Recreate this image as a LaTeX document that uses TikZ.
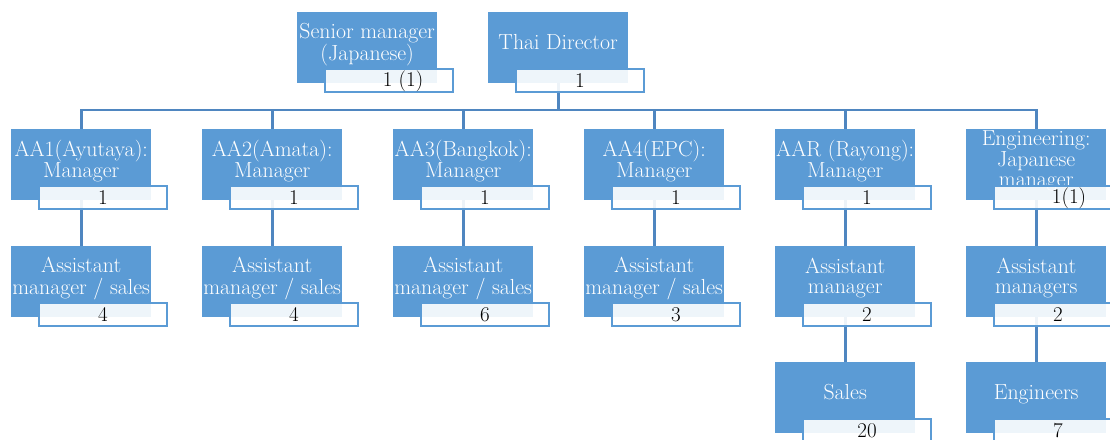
\documentclass[tikz,border=0pt]{standalone}
\usepackage{fontspec}
\setmainfont{Latin Modern Roman}
\definecolor{boxblue}{HTML}{5B9BD5}
\definecolor{linkblue}{HTML}{4F86C0}
\definecolor{countedge}{HTML}{5B9BD5}
\newcommand\boxtext[1]{\raisebox{3pt}[\height][\depth]{\begin{tabular}{@{}c@{}}#1\end{tabular}}}
\begin{document}
\begin{tikzpicture}[x=1pt,y=-1pt,
  role/.style={fill=boxblue,draw=none,minimum width=140pt,minimum height=71pt,
    inner sep=0pt,anchor=north west,text=white,font=\fontsize{21.8}{20.5}\selectfont},
  count/.style={draw=countedge,line width=2pt,fill=white,fill opacity=0.9,text opacity=1,
    minimum width=128pt,minimum height=23pt,inner sep=0pt,anchor=south west,
    font=\fontsize{21}{20}\selectfont},
  link/.style={draw=linkblue,line width=2.6pt}]
\path[use as bounding box] (0,0) rectangle (1110,439);
\clip (0,0) rectangle (1110,439);

% top level
\node[role] (senior) at (297,12) {\boxtext{Senior manager\\(Japanese)}};
\node[role] (thai) at (488,12) {\boxtext{Thai Director}};

% branch managers
\node[role] (a1) at (11,129)  {\boxtext{AA1(Ayutaya):\\Manager}};
\node[role] (a2) at (202,129) {\boxtext{AA2(Amata):\\Manager}};
\node[role] (a3) at (393,129) {\boxtext{AA3(Bangkok):\\Manager}};
\node[role] (a4) at (584,129) {\boxtext{AA4(EPC):\\Manager}};
\node[role] (a5) at (775,129) {\boxtext{AAR (Rayong):\\Manager}};
\node[role] (a6) at (966,129) {\boxtext{Engineering:\\Japanese\\manager}};

% assistants
\node[role] (b1) at (11,246)  {\boxtext{Assistant\\manager / sales}};
\node[role] (b2) at (202,246) {\boxtext{Assistant\\manager / sales}};
\node[role] (b3) at (393,246) {\boxtext{Assistant\\manager / sales}};
\node[role] (b4) at (584,246) {\boxtext{Assistant\\manager / sales}};
\node[role] (b5) at (775,246) {\boxtext{Assistant\\manager}};
\node[role] (b6) at (966,246) {\boxtext{Assistant\\managers}};

% staff
\node[role] (c5) at (775,362) {\boxtext{Sales}};
\node[role] (c6) at (966,362) {\boxtext{Engineers}};

% connectors
\coordinate (bus) at (thai.south |- 0,110);
\draw[link] (thai.south) -- (bus);
\foreach \n in {a1,a2,a3,a4,a5,a6} \draw[link] (bus) -| (\n.north);
\foreach \u/\l in {a1/b1,a2/b2,a3/b3,a4/b4,a5/b5,a6/b6,b5/c5,b6/c6}
  \draw[link] (\u.south) -- (\l.north);

% head counts
\node[count] (ksenior) at ([shift={(27,10)}]senior.south west) {\hspace*{28pt}1 (1)};
\node[count] (kthai) at ([shift={(27,10)}]thai.south west) {1};
\node[count] (ka1) at ([shift={(27,10)}]a1.south west) {1};
\node[count] (ka2) at ([shift={(27,10)}]a2.south west) {1};
\node[count] (ka3) at ([shift={(27,10)}]a3.south west) {1};
\node[count] (ka4) at ([shift={(27,10)}]a4.south west) {1};
\node[count] (ka5) at ([shift={(27,10)}]a5.south west) {1};
\node[count] (ka6) at ([shift={(27,10)}]a6.south west) {\hspace*{22pt}1(1)};
\node[count] (kb1) at ([shift={(27,10)}]b1.south west) {4};
\node[count] (kb2) at ([shift={(27,10)}]b2.south west) {4};
\node[count] (kb3) at ([shift={(27,10)}]b3.south west) {6};
\node[count] (kb4) at ([shift={(27,10)}]b4.south west) {3};
\node[count] (kb5) at ([shift={(27,10)}]b5.south west) {2};
\node[count] (kb6) at ([shift={(27,10)}]b6.south west) {2};
\node[count] (kc5) at ([shift={(27,10)}]c5.south west) {20};
\node[count] (kc6) at ([shift={(27,10)}]c6.south west) {7};
\end{tikzpicture}
\end{document}
